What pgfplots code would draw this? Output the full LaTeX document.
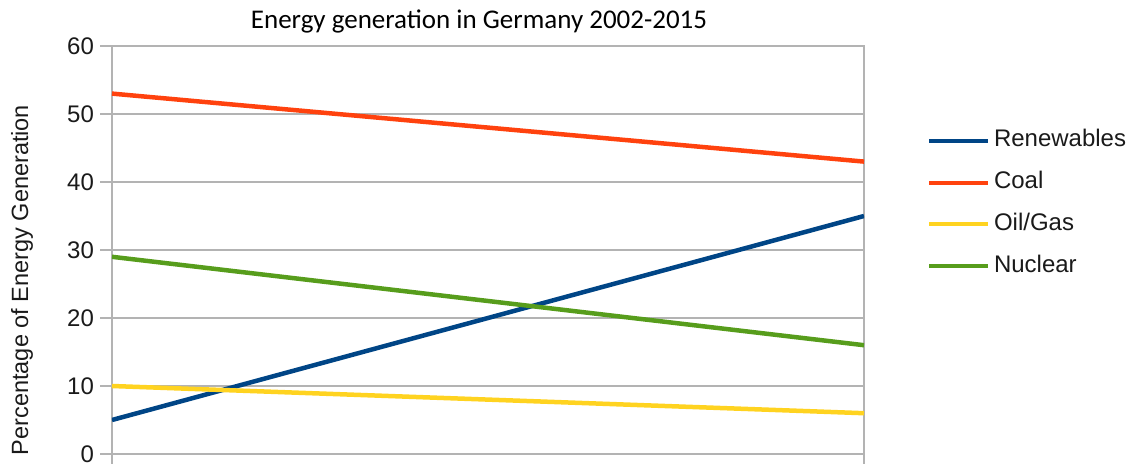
\documentclass[border=0pt]{standalone}
\usepackage{pgfplots}
\pgfplotsset{compat=1.18}
\usepackage{fontspec}
\setmainfont{Liberation Sans}
\newfontfamily\calibri{Carlito}
\definecolor{cRen}{HTML}{004586}
\definecolor{cCoal}{HTML}{FF420E}
\definecolor{cOil}{HTML}{FFD320}
\definecolor{cNuc}{HTML}{579D1C}
\definecolor{gridgray}{HTML}{B3B3B3}
\definecolor{txt}{HTML}{1A1A1A}
\begin{document}
\begin{tikzpicture}
\begin{axis}[
  at={(0,0)}, anchor=south west,
  scale only axis,
  width=752pt, height=408pt,
  xmin=2002, xmax=2015,
  ymin=0, ymax=60,
  ytick={0,10,...,60},
  xtick={2002,2015},
  xticklabels={},
  xtick pos=bottom, ytick pos=left,
  tick align=outside,
  major tick length=12pt,
  every tick/.style={gridgray, line width=2pt},
  axis line style={gridgray, line width=2pt},
  ymajorgrids,
  major grid style={gridgray, line width=2pt},
  tick label style={font=\fontsize{24}{24}\selectfont, text=txt},
  yticklabel style={inner sep=2pt, xshift=-4pt},
  /pgf/number format/assume math mode=true,
  ylabel={Percentage of Energy Generation},
  ylabel style={at={(axis description cs:-0.1197,0.4265)}, anchor=center, font=\fontsize{23.5}{24}\selectfont, text=txt},
  title={Energy generation in Germany 2002-2015},
  title style={at={(axis description cs:0.488,1.0294)}, anchor=base, font=\calibri\fontsize{27}{27}\selectfont, text=black},
  legend cell align=left,
  legend style={draw=none, fill=none, inner sep=0pt, outer sep=0pt,
    at={(rel axis cs:1.0838,0.7966)}, anchor=north west,
    font=\fontsize{24}{24}\selectfont, text=txt,
    nodes={inner sep=0pt, text height=18pt, text depth=6pt},
    row sep=17.7pt, column sep=4pt},
  legend image code/.code={\draw[#1, line width=4pt] (0pt,0pt) -- (59pt,0pt);},
  every axis plot/.append style={line width=4.5pt},
]
\addplot[cRen] coordinates {(2002,5) (2015,35)};
\addlegendentry{Renewables}
\addplot[cCoal] coordinates {(2002,53) (2015,43)};
\addlegendentry{Coal}
\addplot[cOil] coordinates {(2002,10) (2015,6)};
\addlegendentry{Oil/Gas}
\addplot[cNuc] coordinates {(2002,29) (2015,16)};
\addlegendentry{Nuclear}
\end{axis}
\pgfresetboundingbox
\path[use as bounding box] (-112pt,-9pt) rectangle (1030pt,454pt);
\end{tikzpicture}
\end{document}
